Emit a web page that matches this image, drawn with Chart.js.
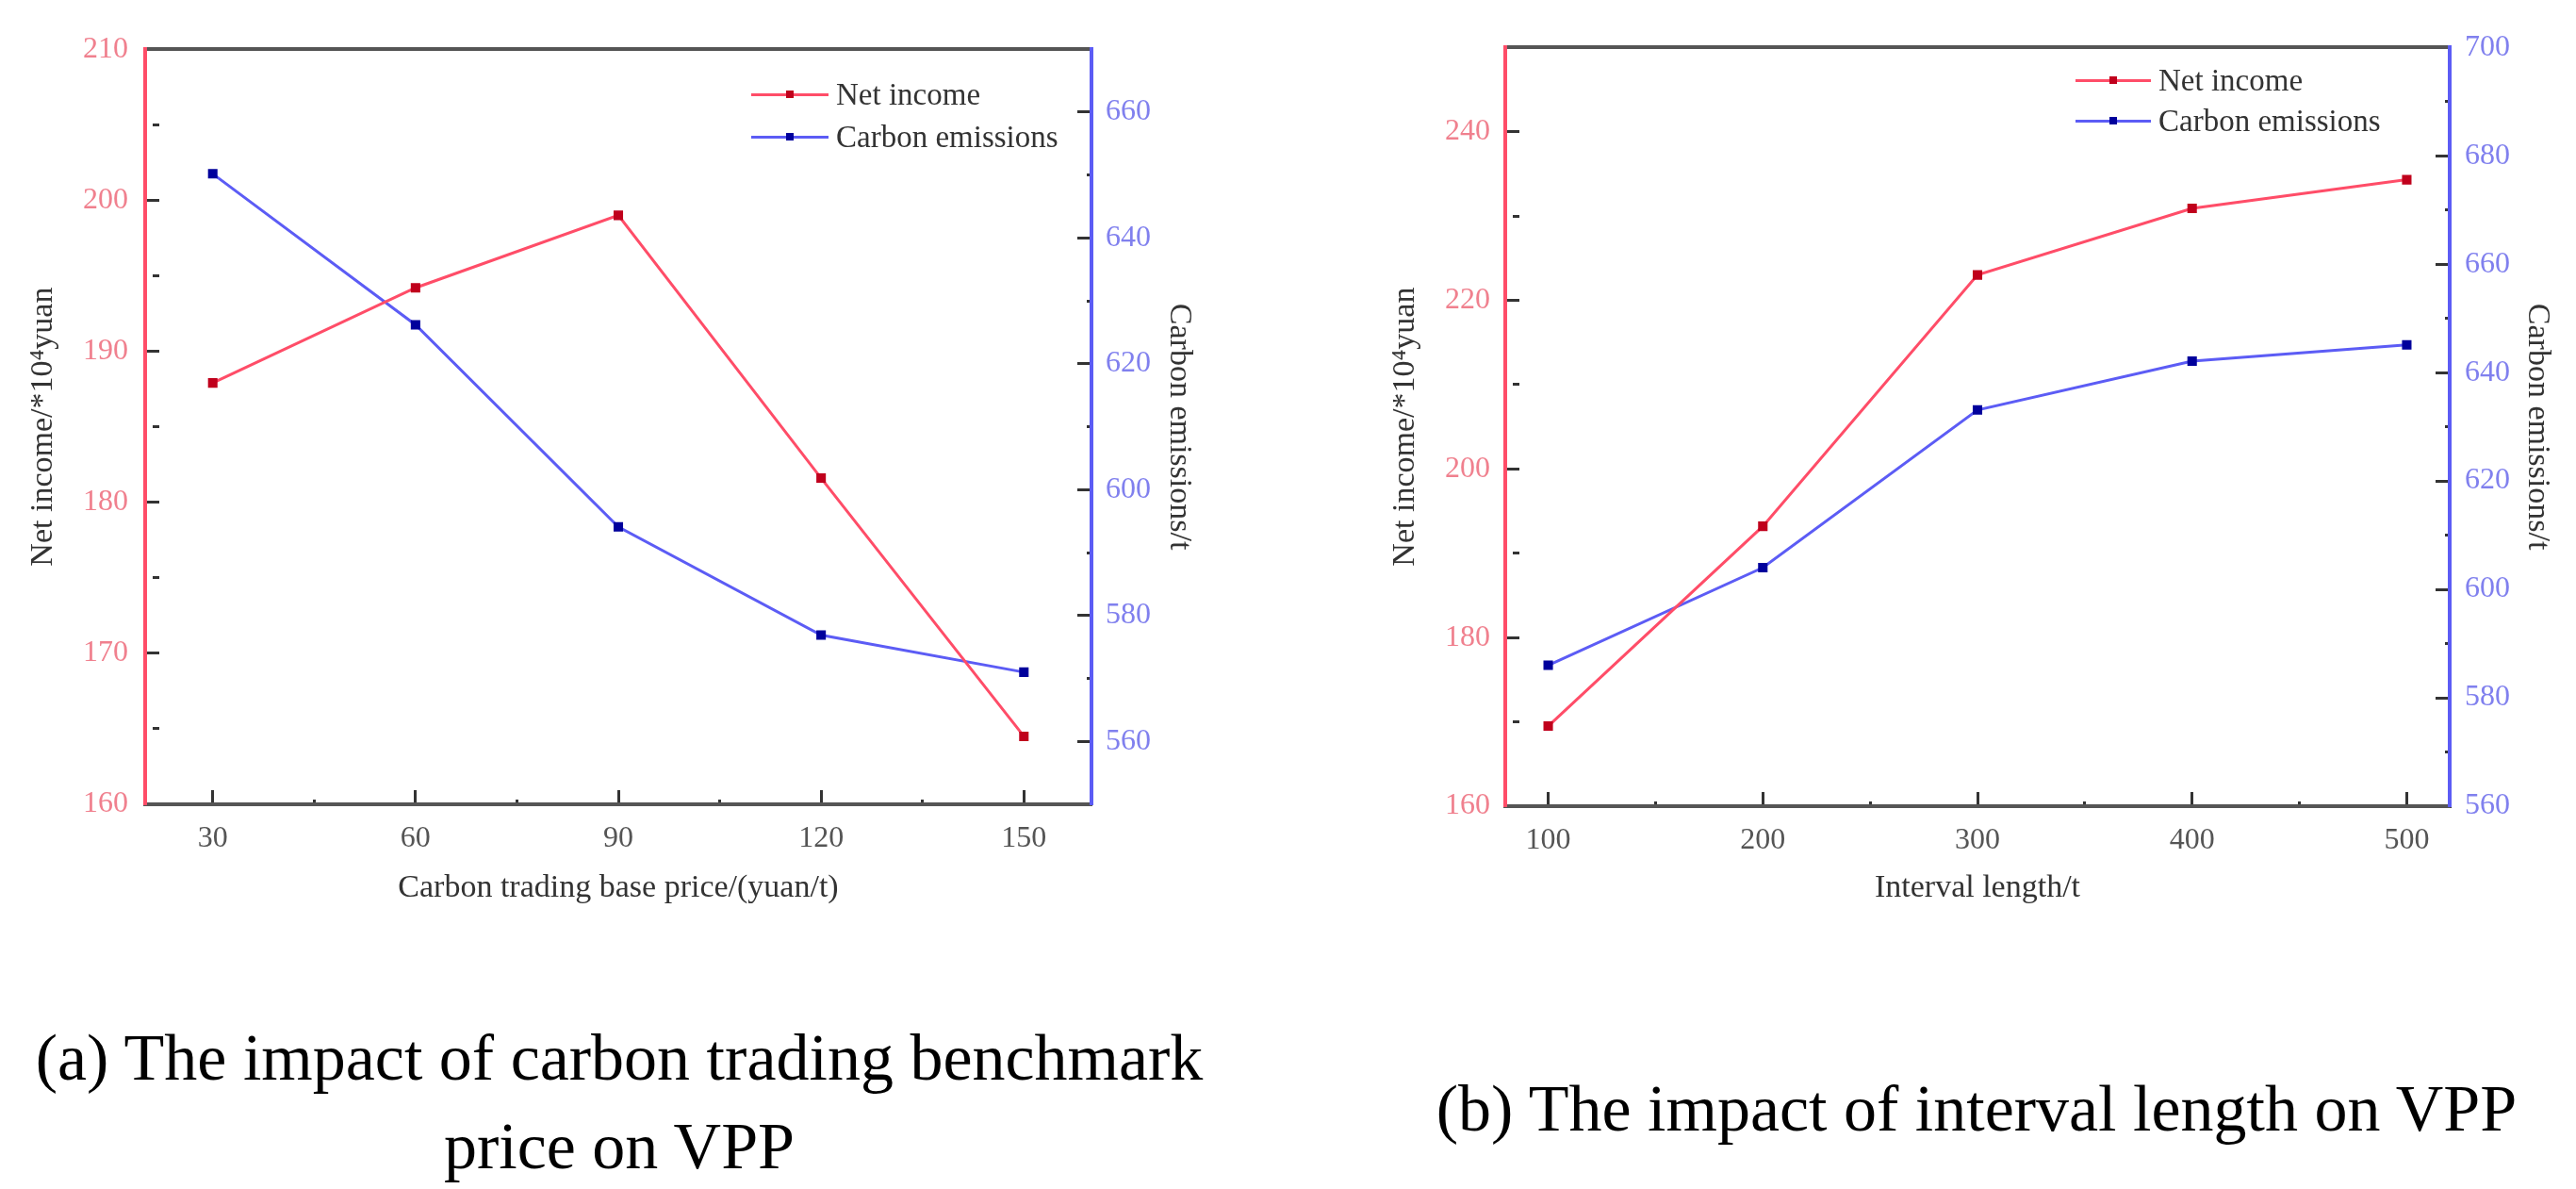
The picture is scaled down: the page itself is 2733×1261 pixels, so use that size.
<!DOCTYPE html>
<html>
<head>
<meta charset="utf-8">
<script src="https://cdn.jsdelivr.net/npm/chart.js@4.4.0/dist/chart.umd.min.js"></script>
<style>
  body { margin: 0; width: 2733px; height: 1261px; background: #fff; position: relative; overflow: hidden; font-family: "Liberation Serif", serif; }
  canvas { position: absolute; top: 0; }
  .legend { position: absolute; font-size: 33px; color: #333; }
  .legend .row { position: absolute; white-space: nowrap; height: 40px; line-height: 40px; }
  .legend .mark { position: absolute; top: 19px; height: 3px; }
  .legend .dot { position: absolute; top: -3px; width: 8px; height: 8px; }
  .caption { position: absolute; font-size: 70px; color: #000; text-align: center; white-space: nowrap; line-height: 80px; }
</style>
</head>
<body>
<canvas id="chartA" width="1366" height="1000" style="left:0px"></canvas>
<canvas id="chartB" width="1367" height="1000" style="left:1366px"></canvas>
<div id="legendA" class="legend"></div>
<div id="legendB" class="legend"></div>
<div class="caption" style="left:0px; width:1314px; top:1082px">(a) The impact of carbon trading benchmark</div>
<div class="caption" style="left:0px; width:1314px; top:1176px">price on VPP</div>
<div class="caption" style="left:1497px; width:1200px; top:1136px">(b) The impact of interval length on VPP</div>
<script>
// panel (a): carbon trading base price
const basePrice = [30, 60, 90, 120, 150];
const incomeA = [187.9, 194.2, 199.0, 181.6, 164.5];
const emissionA = [650.2, 626.2, 594.1, 576.9, 571.0];

// panel (b): interval length
const intervalLen = [100, 200, 300, 400, 500];
const incomeB = [169.5, 193.2, 223.0, 230.9, 234.3];
const emissionB = [586.0, 604.0, 633.1, 642.1, 645.1];

// tick positions (all marks) and the ones that carry a label
const xTicksA = [30, 45, 60, 75, 90, 105, 120, 135, 150];
const xLabelsA = [30, 60, 90, 120, 150];
const yTicksA = [160, 165, 170, 175, 180, 185, 190, 195, 200, 205, 210];
const yLabelsA = [160, 170, 180, 190, 200, 210];
const y1TicksA = [560, 570, 580, 590, 600, 610, 620, 630, 640, 650, 660];
const y1LabelsA = [560, 580, 600, 620, 640, 660];

const xTicksB = [100, 150, 200, 250, 300, 350, 400, 450, 500];
const xLabelsB = [100, 200, 300, 400, 500];
const yTicksB = [160, 170, 180, 190, 200, 210, 220, 230, 240];
const yLabelsB = [160, 180, 200, 220, 240];
const y1TicksB = [560, 570, 580, 590, 600, 610, 620, 630, 640, 650, 660, 670, 680, 690, 700];
const y1LabelsB = [560, 580, 600, 620, 640, 660, 680, 700];

const RED = "#ff4d68";
const BLUE = "#5c5cf5";
const FONT = "Liberation Serif";

function makeAxis(o) {
  return {
    type: "linear",
    position: o.position,
    min: o.min,
    max: o.max,
    afterBuildTicks: (s) => { s.ticks = o.ticks.map((v) => ({ value: v })); },
    afterFit: (s) => { if (s.isHorizontal()) s.height = o.size; else s.width = o.size; },
    border: { color: o.lineColor, width: 4 },
    grid: {
      drawOnChartArea: false,
      tickLength: -15,
      tickWidth: 3,
      tickColor: "#333",
      // minor marks: only the first few pixels of the tick are drawn
      tickBorderDash: (c) => (c.tick && !o.labels.includes(c.tick.value) ? [7, 60] : []),
    },
    ticks: {
      color: o.labelColor,
      font: { family: FONT, size: 32 },
      padding: o.pad,
      maxRotation: 0,
      autoSkip: false,
      callback: (v) => (o.labels.includes(v) ? String(v) : ""),
    },
    title: {
      display: true,
      text: o.title,
      color: "#333",
      font: { family: FONT, size: 34 },
      padding: { top: o.titlePad, bottom: o.titlePad },
    },
  };
}

// zero-height axis used only for the frame line at the top
function topBorder(min, max) {
  return {
    type: "linear",
    position: "top",
    min: min,
    max: max,
    afterFit: (s) => { s.height = 0; },
    border: { color: "#555", width: 4 },
    grid: { drawOnChartArea: false, drawTicks: false },
    ticks: { display: false },
  };
}

function makeChart(id, xs, income, emission, scales) {
  return new Chart(document.getElementById(id).getContext("2d"), {
    type: "line",
    data: {
      datasets: [
        {
          label: "Net income",
          data: xs.map((x, i) => ({ x: x, y: income[i] })),
          borderColor: RED,
          backgroundColor: "#c0001c",
          pointBackgroundColor: "#c0001c",
          pointBorderColor: "#c0001c",
          borderWidth: 3,
          pointStyle: "rect",
          pointRadius: 5,
          yAxisID: "y",
        },
        {
          label: "Carbon emissions",
          data: xs.map((x, i) => ({ x: x, y: emission[i] })),
          borderColor: BLUE,
          backgroundColor: "#00009c",
          pointBackgroundColor: "#00009c",
          pointBorderColor: "#00009c",
          borderWidth: 3,
          pointStyle: "rect",
          pointRadius: 5,
          yAxisID: "y1",
        },
      ],
    },
    options: {
      responsive: false,
      animation: false,
      layout: { padding: { top: 47, left: 0, right: 0, bottom: 0 } },
      plugins: { legend: { display: false }, tooltip: { enabled: false } },
      scales: scales,
    },
  });
}

const chartA = makeChart("chartA", basePrice, incomeA, emissionA, {
  x: makeAxis({ position: "bottom", min: 20, max: 160, ticks: xTicksA, labels: xLabelsA, size: 147,
    lineColor: "#555", labelColor: "#555", pad: 32, title: "Carbon trading base price/(yuan/t)", titlePad: 38 }),
  x2: topBorder(20, 160),
  y: makeAxis({ position: "left", min: 160, max: 210, ticks: yTicksA, labels: yLabelsA, size: 154,
    lineColor: RED, labelColor: "#f0808e", pad: 33, title: "Net income/*10\u2074yuan", titlePad: 26 }),
  y1: makeAxis({ position: "right", min: 550, max: 670, ticks: y1TicksA, labels: y1LabelsA, size: 208,
    lineColor: BLUE, labelColor: "#8080ee", pad: 30, title: "Carbon emissions/t", titlePad: 95 }),
});

const chartB = makeChart("chartB", intervalLen, incomeB, emissionB, {
  x: makeAxis({ position: "bottom", min: 80, max: 520, ticks: xTicksB, labels: xLabelsB, size: 145,
    lineColor: "#555", labelColor: "#555", pad: 32, title: "Interval length/t", titlePad: 38 }),
  x2: topBorder(80, 520),
  y: makeAxis({ position: "left", min: 160, max: 250, ticks: yTicksB, labels: yLabelsB, size: 231,
    lineColor: RED, labelColor: "#f0808e", pad: 31, title: "Net income/*10\u2074yuan", titlePad: 105 }),
  y1: makeAxis({ position: "right", min: 560, max: 700, ticks: y1TicksB, labels: y1LabelsB, size: 134,
    lineColor: BLUE, labelColor: "#8080ee", pad: 31, title: "Carbon emissions/t", titlePad: 21 }),
});

// html legend built from the chart datasets
function buildLegend(el, chart, left, textLeft, rowTops) {
  chart.data.datasets.forEach((ds, i) => {
    const row = document.createElement("div");
    row.className = "row";
    row.style.left = left + "px";
    row.style.top = rowTops[i] - 20 + "px";
    const mark = document.createElement("div");
    mark.className = "mark";
    mark.style.left = "0px";
    mark.style.width = textLeft - left - 8 + "px";
    mark.style.background = ds.borderColor;
    const dot = document.createElement("div");
    dot.className = "dot";
    dot.style.left = (textLeft - left - 8) / 2 - 4 + "px";
    dot.style.background = ds.pointBackgroundColor;
    mark.appendChild(dot);
    const txt = document.createElement("span");
    txt.textContent = ds.label;
    txt.style.position = "absolute";
    txt.style.left = textLeft - left + "px";
    row.appendChild(mark);
    row.appendChild(txt);
    el.appendChild(row);
  });
}
buildLegend(document.getElementById("legendA"), chartA, 797, 887, [100, 145]);
buildLegend(document.getElementById("legendB"), chartB, 2202, 2290, [85, 128]);
</script>
</body>
</html>
